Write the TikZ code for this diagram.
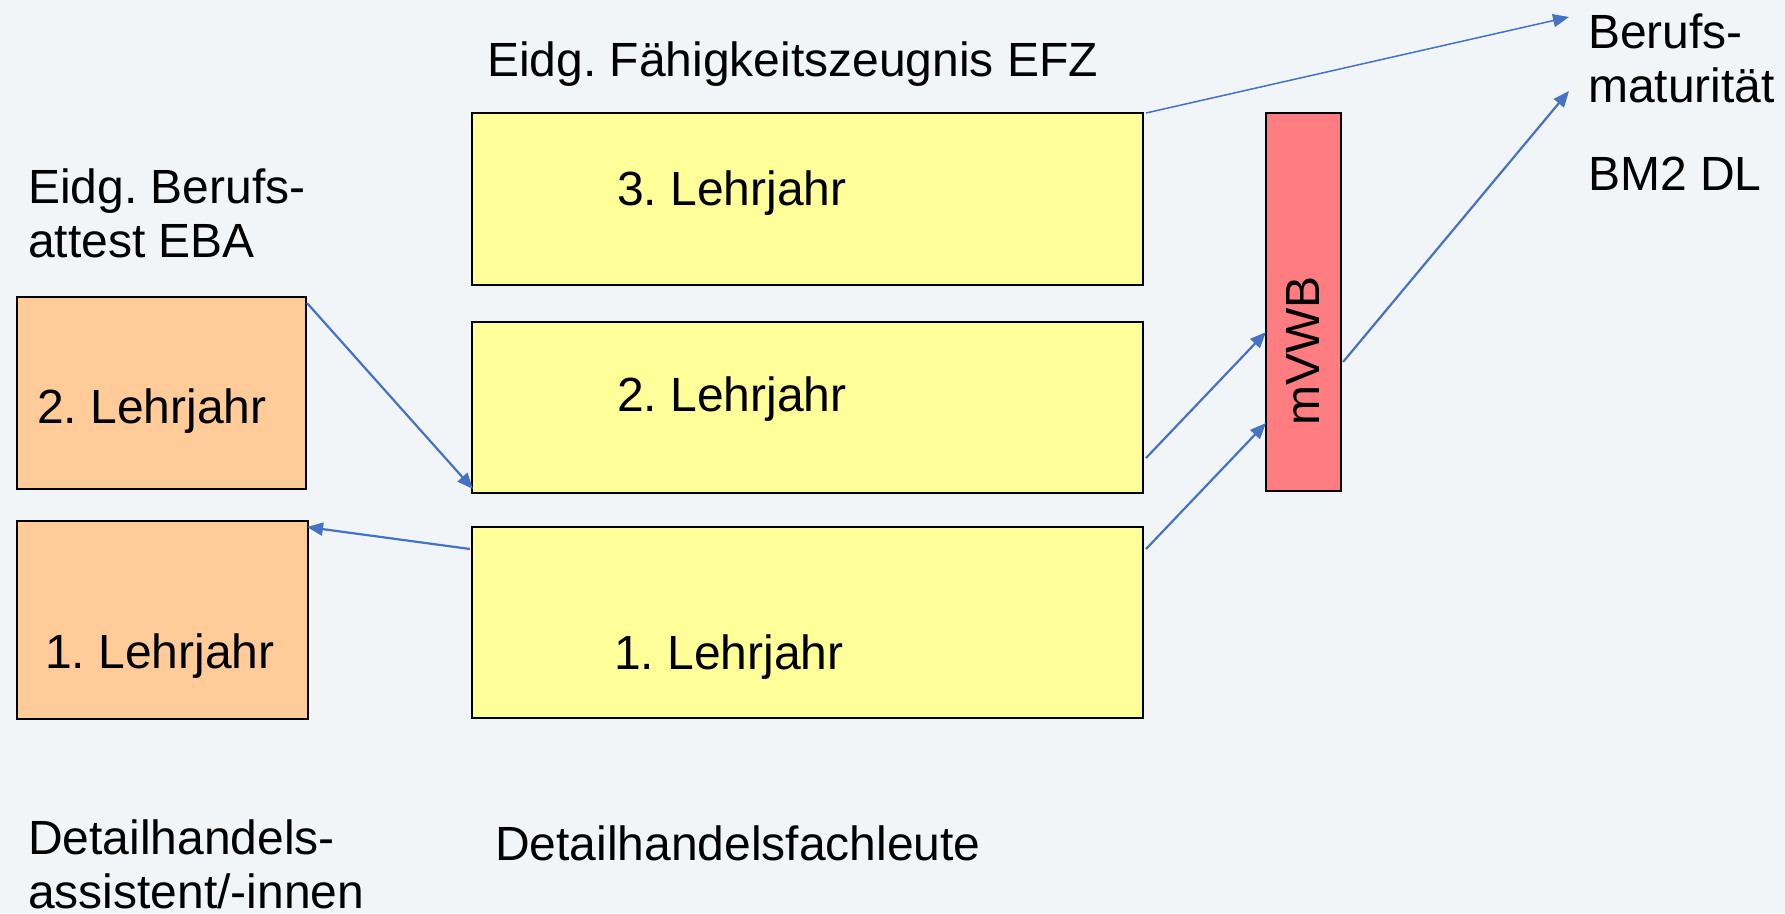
\documentclass[tikz,border=0pt]{standalone}
\usepackage{fontspec}
\setmainfont{Liberation Sans}
\usetikzlibrary{arrows.meta,calc}
\definecolor{bg}{HTML}{F2F5F7}
\definecolor{ylw}{HTML}{FFFF99}
\definecolor{org}{HTML}{FFCC99}
\definecolor{rd}{HTML}{FF7C80}
\definecolor{arr}{HTML}{4472C4}
\frenchspacing
\tikzset{
  box/.style={draw=black, line width=2pt, inner sep=0pt, outer sep=0pt, anchor=north west},
  lbl/.style={inner sep=0pt, outer sep=0pt, anchor=base west, align=left},
  conn/.style={draw=arr, line width=2.2pt, -{Triangle[length=16pt,width=13pt]}},
  thinconn/.style={draw=arr, line width=1.5pt, -{Triangle[length=16pt,width=13pt]}}
}
\begin{document}
\begin{tikzpicture}[x=1pt,y=-1pt,font=\fontsize{48}{54}\selectfont]
\fill[bg] (0,0) rectangle (1785,913);
\useasboundingbox (0,0) rectangle (1785,913);

% boxes
\node[box, fill=ylw, minimum width=671pt, minimum height=172pt] (y3) at (472,113) {};
\node[box, fill=ylw, minimum width=671pt, minimum height=171pt] (y2) at (472,322) {};
\node[box, fill=ylw, minimum width=671pt, minimum height=191pt] (y1) at (472,527) {};
\node[box, fill=org, minimum width=289pt, minimum height=192pt] (o2) at (17,297) {};
\node[box, fill=org, minimum width=291pt, minimum height=198pt] (o1) at (17,521) {};
\node[box, fill=rd, minimum width=75pt, minimum height=378pt] (mv) at (1266,113) {};

% texts (multi-line nodes: base = last line)
\node[lbl] (efz) at (487,76) {Eidg. Fähigkeitszeugnis EFZ};
\node[lbl] (t3) at (617,205) {3. Lehrjahr};
\node[lbl] (t2) at (617,411) {2. Lehrjahr};
\node[lbl] (t1) at (614,669) {1. Lehrjahr};
\node[lbl] (eba) at (28,257) {Eidg. Berufs-\\attest EBA};
\node[lbl] (to2) at (37,423) {2. Lehrjahr};
\node[lbl] (to1) at (45,668) {1. Lehrjahr};
\node[lbl] (dha) at (28,908) {Detailhandels-\\assistent/-innen};
\node[lbl] (dhf) at (495,860) {Detailhandelsfachleute};
\node[lbl] (bm) at (1588,102) {Berufs-\\maturität};
\node[lbl] (bm2) at (1588,190) {BM2 DL};
\node[inner sep=0pt, rotate=90] (mvt) at (1303,351) {mVWB};

% arrow targets
\coordinate (bmA) at (1569,17);
\coordinate (bmB) at (1569,91);

% connectors
\draw[thinconn] ($(y3.north east)+(3,0)$) -- (bmA);
\draw[conn] ($(mv.east)+(2,60)$) -- (bmB);
\draw[conn] ($(y2.south east)+(3,-35)$) -- ($(mv.north west)+(0,219)$);
\draw[conn] ($(y1.north east)+(3,22)$) -- ($(mv.south west)+(0,-68)$);
\draw[conn] ($(o2.north east)+(1,6)$) -- ($(y2.south west)+(1,-4)$);
\draw[conn] ($(y1.north west)+(-2,22)$) -- ($(o1.north east)+(-1,6)$);
\end{tikzpicture}
\end{document}
